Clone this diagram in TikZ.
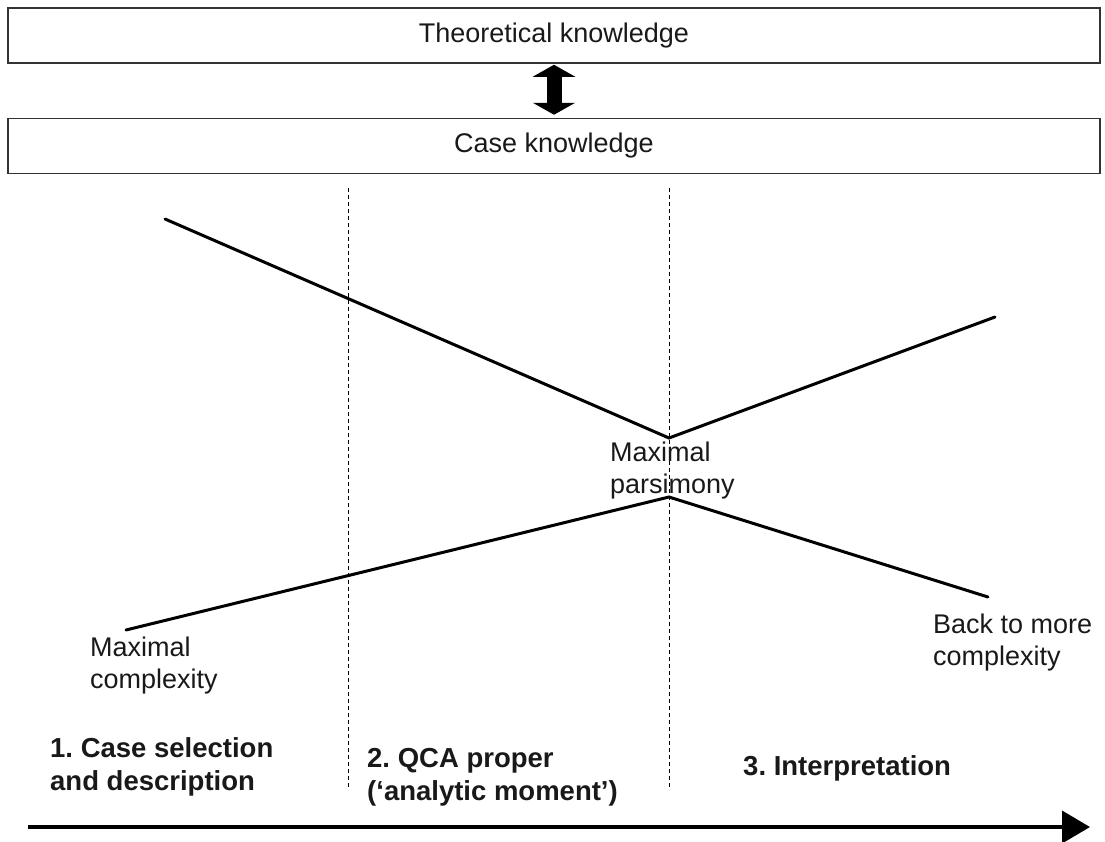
\documentclass[tikz,border=0pt]{standalone}
\usepackage{fontspec}
\setmainfont{Liberation Sans}
\usetikzlibrary{arrows.meta}
\tikzset{
  box/.style={draw=black!80, line width=1.5pt, minimum width=1092pt, minimum height=55pt, inner sep=0pt, font=\fontsize{27}{32}\selectfont, text=black!90},
  lbl/.style={anchor=base west, inner sep=0pt, align=left, font=\fontsize{27}{32}\selectfont, text=black!90},
  blbl/.style={anchor=base west, inner sep=0pt, align=left, font=\fontsize{27.5}{33}\selectfont\bfseries, text=black!90},
  trend/.style={line width=3pt, line cap=round},
  phase/.style={line width=1pt, dash pattern=on 4pt off 3pt},
}
\begin{document}
\begin{tikzpicture}[x=1pt, y=-1pt]
\useasboundingbox (0,0) rectangle (1105,841);
% boxes
\node[box] (theo) at (554,35.5) {Theoretical knowledge};
\node[box] (case) at (554,146) {Case knowledge};
\draw[line width=15pt, {Triangle[length=12pt, width=42pt]}-{Triangle[length=12pt, width=42pt]}, shorten <=1pt, shorten >=3pt] (theo.south -| 554,0) -- (case.north -| 554,0);
% dashed phase separators
\coordinate (d1t) at (348,188);
\coordinate (d1b) at (348,789);
\coordinate (d2t) at (669,188);
\coordinate (d2b) at (669,789);
\draw[phase] (d1t) -- (d1b);
\draw[phase] (d2t) -- (d2b);
% trend lines
\coordinate (ta) at (165,219);
\coordinate (tv) at (669,438);
\coordinate (tb) at (995,317);
\coordinate (ba) at (126,630);
\coordinate (bv) at (669,497);
\coordinate (bb) at (988,597);
\draw[trend] (ta) -- (tv) -- (tb);
\draw[trend] (ba) -- (bv) -- (bb);
% labels (base = baseline of last line)
\node[lbl] (mp) at (610,493) {Maximal\\parsimony};
\node[lbl] (mc) at (90,688) {Maximal\\complexity};
\node[lbl] (bc) at (933,665) {Back to more\\complexity};
\node[blbl] (p1) at (50,790) {1.\ Case selection\\and description};
\node[blbl] (p2) at (367,800) {2.\ QCA proper\\(‘analytic moment’)};
\node[blbl] (p3) at (743,775) {3.\ Interpretation};
% time arrow
\coordinate (as) at (28,827);
\coordinate (ae) at (1090,827);
\draw[line width=4pt, -{Triangle[length=28pt, width=32pt]}] (as) -- (ae);
\end{tikzpicture}
\end{document}
